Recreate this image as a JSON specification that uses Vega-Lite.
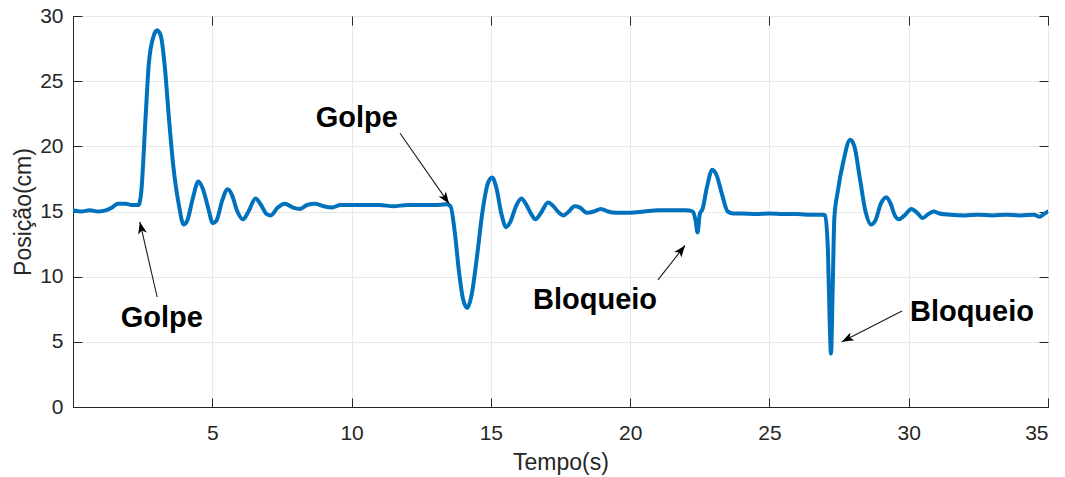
{
  "$schema": "https://vega.github.io/schema/vega-lite/v6.json",
  "width": 975,
  "height": 391,
  "autosize": {"type": "none"},
  "padding": {"left": 73, "top": 16, "right": 17, "bottom": 70},
  "background": "white",
  "config": {
    "view": {"stroke": "#262626", "strokeWidth": 1},
    "axis": {
      "labelFont": "Liberation Sans", "labelFontSize": 21, "labelColor": "#262626",
      "titleFont": "Liberation Sans", "titleFontSize": 23, "titleFontWeight": "normal", "titleColor": "#262626",
      "domainColor": "#262626", "tickColor": "#262626", "gridColor": "#e8e8e8", "tickSize": -9
    }
  },
  "resolve": {"axis": {"x": "independent", "y": "independent"}},
  "layer": [
    {
      "layer": [
        {
          "data": {"values": [
            {"t":0.0,"y":15.1},{"t":0.3,"y":15.0},{"t":0.6,"y":15.1},{"t":0.9,"y":15.0},{"t":1.2,"y":15.1},
            {"t":1.4,"y":15.3},{"t":1.6,"y":15.6},{"t":1.9,"y":15.6},{"t":2.1,"y":15.5},{"t":2.35,"y":15.5},
            {"t":2.45,"y":16.5},{"t":2.6,"y":22},{"t":2.72,"y":26.3},{"t":2.9,"y":28.5},{"t":3.02,"y":28.9},
            {"t":3.15,"y":28.5},{"t":3.3,"y":26},{"t":3.45,"y":22},{"t":3.6,"y":18.5},{"t":3.8,"y":15.5},
            {"t":3.97,"y":14.0},{"t":4.1,"y":14.3},{"t":4.3,"y":16.0},{"t":4.5,"y":17.3},{"t":4.65,"y":16.8},
            {"t":4.85,"y":15.3},{"t":5.02,"y":14.1},{"t":5.15,"y":14.3},{"t":5.35,"y":15.8},{"t":5.55,"y":16.7},
            {"t":5.7,"y":16.3},{"t":5.9,"y":15.0},{"t":6.1,"y":14.4},{"t":6.3,"y":15.0},{"t":6.55,"y":16.0},
            {"t":6.75,"y":15.5},{"t":6.95,"y":14.8},{"t":7.1,"y":14.7},{"t":7.35,"y":15.3},{"t":7.6,"y":15.6},
            {"t":7.9,"y":15.3},{"t":8.15,"y":15.2},{"t":8.4,"y":15.5},{"t":8.7,"y":15.6},{"t":9.0,"y":15.4},
            {"t":9.3,"y":15.3},{"t":9.6,"y":15.5},{"t":10.0,"y":15.5},{"t":10.5,"y":15.5},{"t":11.0,"y":15.5},
            {"t":11.5,"y":15.4},{"t":12.0,"y":15.5},{"t":12.5,"y":15.5},{"t":13.0,"y":15.5},{"t":13.4,"y":15.55},
            {"t":13.55,"y":15.4},{"t":13.7,"y":13.5},{"t":13.85,"y":10.5},{"t":14.0,"y":8.3},{"t":14.15,"y":7.6},
            {"t":14.3,"y":8.5},{"t":14.5,"y":11.5},{"t":14.7,"y":15.0},{"t":14.9,"y":17.2},{"t":15.05,"y":17.6},
            {"t":15.2,"y":16.8},{"t":15.38,"y":14.8},{"t":15.55,"y":13.8},{"t":15.7,"y":14.2},{"t":15.9,"y":15.4},
            {"t":16.1,"y":16.0},{"t":16.25,"y":15.6},{"t":16.45,"y":14.8},{"t":16.6,"y":14.4},{"t":16.8,"y":14.9},
            {"t":17.05,"y":15.7},{"t":17.2,"y":15.5},{"t":17.45,"y":14.9},{"t":17.6,"y":14.7},{"t":17.8,"y":15.0},
            {"t":18.0,"y":15.4},{"t":18.2,"y":15.3},{"t":18.45,"y":14.9},{"t":18.7,"y":15.0},{"t":18.95,"y":15.2},
            {"t":19.2,"y":15.0},{"t":19.5,"y":14.9},{"t":20.0,"y":14.9},{"t":20.5,"y":15.0},{"t":21.0,"y":15.1},
            {"t":21.5,"y":15.1},{"t":22.0,"y":15.1},{"t":22.25,"y":15.0},{"t":22.35,"y":14.3},{"t":22.42,"y":13.4},
            {"t":22.5,"y":14.8},{"t":22.6,"y":15.2},{"t":22.75,"y":16.8},{"t":22.95,"y":18.2},{"t":23.1,"y":17.8},
            {"t":23.3,"y":16.3},{"t":23.5,"y":15.0},{"t":23.7,"y":14.85},{"t":24.0,"y":14.85},{"t":24.5,"y":14.8},
            {"t":25.0,"y":14.85},{"t":25.5,"y":14.8},{"t":26.0,"y":14.8},{"t":26.5,"y":14.75},{"t":26.9,"y":14.75},
            {"t":27.0,"y":14.7},{"t":27.1,"y":12},{"t":27.17,"y":6},{"t":27.21,"y":4.1},{"t":27.27,"y":9},
            {"t":27.33,"y":14.5},{"t":27.45,"y":16.5},{"t":27.65,"y":18.8},{"t":27.9,"y":20.5},{"t":28.05,"y":20.0},
            {"t":28.25,"y":17.5},{"t":28.45,"y":15.0},{"t":28.65,"y":14.0},{"t":28.8,"y":14.3},{"t":29.0,"y":15.6},
            {"t":29.2,"y":16.1},{"t":29.35,"y":15.6},{"t":29.5,"y":14.7},{"t":29.65,"y":14.4},{"t":29.85,"y":14.7},
            {"t":30.1,"y":15.2},{"t":30.3,"y":14.9},{"t":30.5,"y":14.5},{"t":30.7,"y":14.8},{"t":30.9,"y":15.0},
            {"t":31.1,"y":14.85},{"t":31.5,"y":14.75},{"t":32.0,"y":14.7},{"t":32.5,"y":14.75},{"t":33.0,"y":14.7},
            {"t":33.5,"y":14.75},{"t":34.0,"y":14.7},{"t":34.5,"y":14.75},{"t":34.7,"y":14.6},{"t":34.85,"y":14.8},
            {"t":35.0,"y":15.0}
          ]},
          "mark": {"type": "line", "color": "#0072BD", "strokeWidth": 4, "interpolate": "monotone", "strokeCap": "round", "strokeJoin": "round", "clip": true},
          "encoding": {
            "x": {"field": "t", "type": "quantitative", "scale": {"domain": [0, 35], "nice": false, "zero": false},
                  "axis": {"title": "Tempo(s)", "values": [5,10,15,20,25,30,35], "labelPadding": 24, "titlePadding": 8, "grid": true}},
            "y": {"field": "y", "type": "quantitative", "scale": {"domain": [0, 30], "nice": false},
                  "axis": {"title": "Posição(cm)", "values": [0,5,10,15,20,25,30], "labelPadding": 19, "titlePadding": 4, "grid": true}}
          }
        },
        {
          "mark": {"type": "rule", "color": "#262626", "strokeWidth": 1.2},
          "encoding": {"y": {"datum": 15, "type": "quantitative"}}
        },
        {
          "data": {"values": [
            {"t":3.02,"y":8.44,"t2":2.4,"y2":14.2},
            {"t":11.74,"y":21.0,"t2":13.5,"y2":15.6},
            {"t":21.0,"y":9.75,"t2":21.97,"y2":12.4},
            {"t":29.76,"y":7.37,"t2":27.6,"y2":5.0}
          ]},
          "mark": {"type": "rule", "color": "#1a1a1a", "strokeWidth": 1.1},
          "encoding": {
            "x": {"field": "t", "type": "quantitative"},
            "y": {"field": "y", "type": "quantitative"},
            "x2": {"field": "t2"},
            "y2": {"field": "y2"}
          }
        },
        {
          "data": {"values": [{"t":2.4,"y":14.2}]},
          "mark": {"type": "point", "shape": "M0,0L-0.6,1.6L0,1.2L0.6,1.6Z", "filled": true, "color": "#000000", "opacity": 1, "size": 220, "angle": 347},
          "encoding": {"x": {"field": "t", "type": "quantitative"}, "y": {"field": "y", "type": "quantitative"}}
        },
        {
          "data": {"values": [{"t":13.5,"y":15.6}]},
          "mark": {"type": "point", "shape": "M0,0L-0.6,1.6L0,1.2L0.6,1.6Z", "filled": true, "color": "#000000", "opacity": 1, "size": 220, "angle": 145},
          "encoding": {"x": {"field": "t", "type": "quantitative"}, "y": {"field": "y", "type": "quantitative"}}
        },
        {
          "data": {"values": [{"t":21.97,"y":12.4}]},
          "mark": {"type": "point", "shape": "M0,0L-0.6,1.6L0,1.2L0.6,1.6Z", "filled": true, "color": "#000000", "opacity": 1, "size": 220, "angle": 37.6},
          "encoding": {"x": {"field": "t", "type": "quantitative"}, "y": {"field": "y", "type": "quantitative"}}
        },
        {
          "data": {"values": [{"t":27.6,"y":5.0}]},
          "mark": {"type": "point", "shape": "M0,0L-0.6,1.6L0,1.2L0.6,1.6Z", "filled": true, "color": "#000000", "opacity": 1, "size": 220, "angle": 242.7},
          "encoding": {"x": {"field": "t", "type": "quantitative"}, "y": {"field": "y", "type": "quantitative"}}
        },
        {
          "data": {"values": [
            {"t":3.19,"y":6.83,"label":"Golpe"},
            {"t":10.19,"y":22.2,"label":"Golpe"},
            {"t":18.74,"y":8.2,"label":"Bloqueio"},
            {"t":32.27,"y":7.3,"label":"Bloqueio"}
          ]},
          "mark": {"type": "text", "font": "Liberation Sans", "fontSize": 29, "fontWeight": "bold", "color": "#000000", "align": "center", "baseline": "middle"},
          "encoding": {
            "x": {"field": "t", "type": "quantitative"},
            "y": {"field": "y", "type": "quantitative"},
            "text": {"field": "label"}
          }
        }
      ]
    },
    {
      "data": {"values": [{"t":0,"y":0}]},
      "mark": {"type": "point", "opacity": 0},
      "encoding": {
        "x": {"field": "t", "type": "quantitative", "axis": {"orient": "top", "title": null, "labels": false, "grid": false, "domain": false, "values": [5,10,15,20,25,30,35]}},
        "y": {"field": "y", "type": "quantitative", "axis": {"orient": "right", "title": null, "labels": false, "grid": false, "domain": false, "values": [0,5,10,15,20,25,30]}}
      }
    }
  ]
}
